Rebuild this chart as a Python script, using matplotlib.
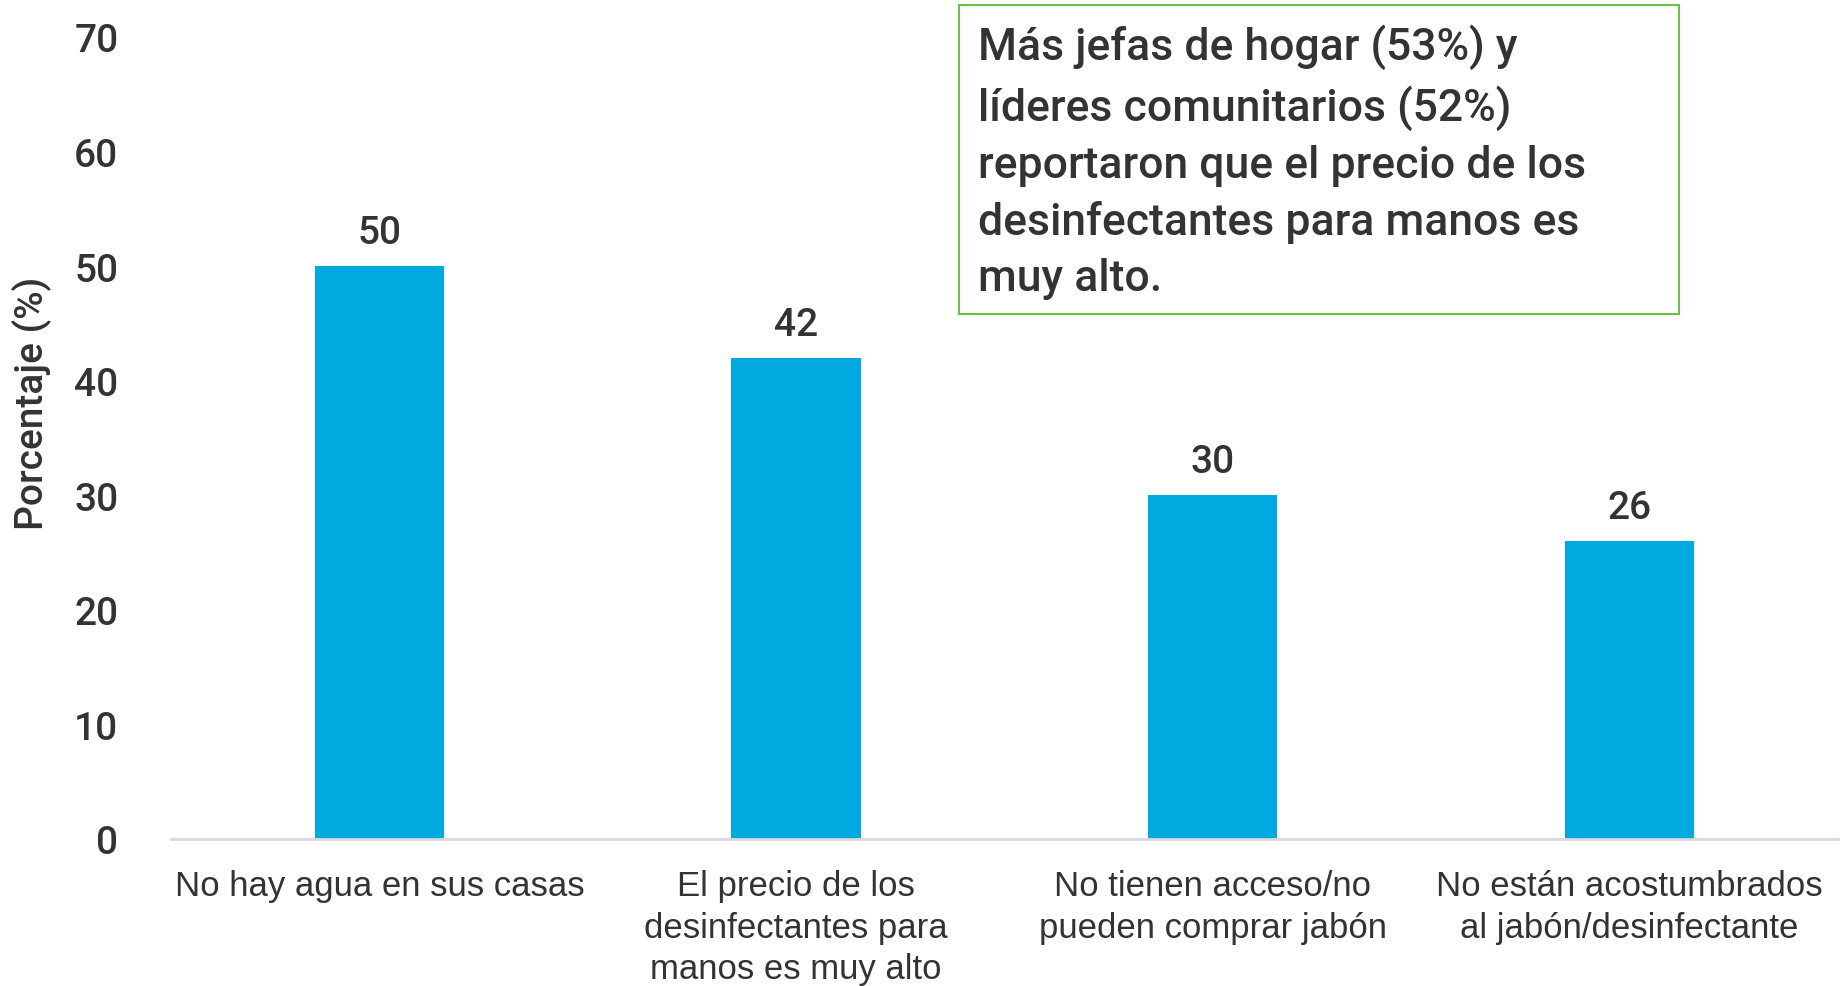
import matplotlib
matplotlib.use("Agg")
import matplotlib.pyplot as plt
from matplotlib.patches import Rectangle

categories = [
    "No hay agua en sus casas",
    "El precio de los\ndesinfectantes para\nmanos es muy alto",
    "No tienen acceso/no\npueden comprar jabón",
    "No están acostumbrados\nal jabón/desinfectante",
]
values = [50, 42, 30, 26]
yticks = [0, 10, 20, 30, 40, 50, 60, 70]
note = ("Más jefas de hogar (53%) y\n"
        "líderes comunitarios (52%)\n"
        "reportaron que el precio de los\n"
        "desinfectantes para manos es\n"
        "muy alto.")

TXT = "#333333"
BAR = "#00A9E0"
MED = ["Roboto", "Liberation Sans", "DejaVu Sans"]

plt.rcParams["font.family"] = ["Liberation Sans", "DejaVu Sans"]

fig = plt.figure(figsize=(18.47, 9.87), dpi=100)
ax = fig.add_axes([0.0926, 0.149, 0.9024, 0.8125])

x = range(len(values))
ax.bar(x, values, width=0.31, color=BAR, zorder=2)
for xi, v in zip(x, values):
    ax.text(xi, v + 1.3, f"{v}", ha="center", va="bottom",
            fontsize=28, color=TXT, family=MED, fontweight="medium")

ax.set_xlim(-0.5, 3.5)
ax.set_ylim(0, 70)
ax.set_yticks(yticks)
ax.set_yticklabels([str(t) for t in yticks], fontsize=28, color=TXT,
                   family=MED, fontweight="medium")
ax.set_xticks(list(x))
ax.set_xticklabels(categories, fontsize=25, color=TXT, linespacing=1.32)
ax.tick_params(axis="both", length=0)
ax.tick_params(axis="y", pad=38)
ax.tick_params(axis="x", pad=22)

for s in ["top", "right", "left"]:
    ax.spines[s].set_visible(False)
ax.spines["bottom"].set_color("#D9D9D9")
ax.spines["bottom"].set_linewidth(2)

ax.set_ylabel("Porcentaje (%)", fontsize=28, color=TXT,
              family=MED, fontweight="medium")
ax.yaxis.set_label_coords(-0.072, 0.545)

# note box
fig.patches.append(Rectangle((0.5192, 0.681), 0.3899, 0.313, transform=fig.transFigure,
                             fill=False, edgecolor="#70BF44", linewidth=1.5))
fig.text(0.5295, 0.975, note, ha="left", va="top", fontsize=32, color=TXT,
         linespacing=1.42, family=MED, fontweight="medium")

fig.savefig("out.png", dpi=100)
